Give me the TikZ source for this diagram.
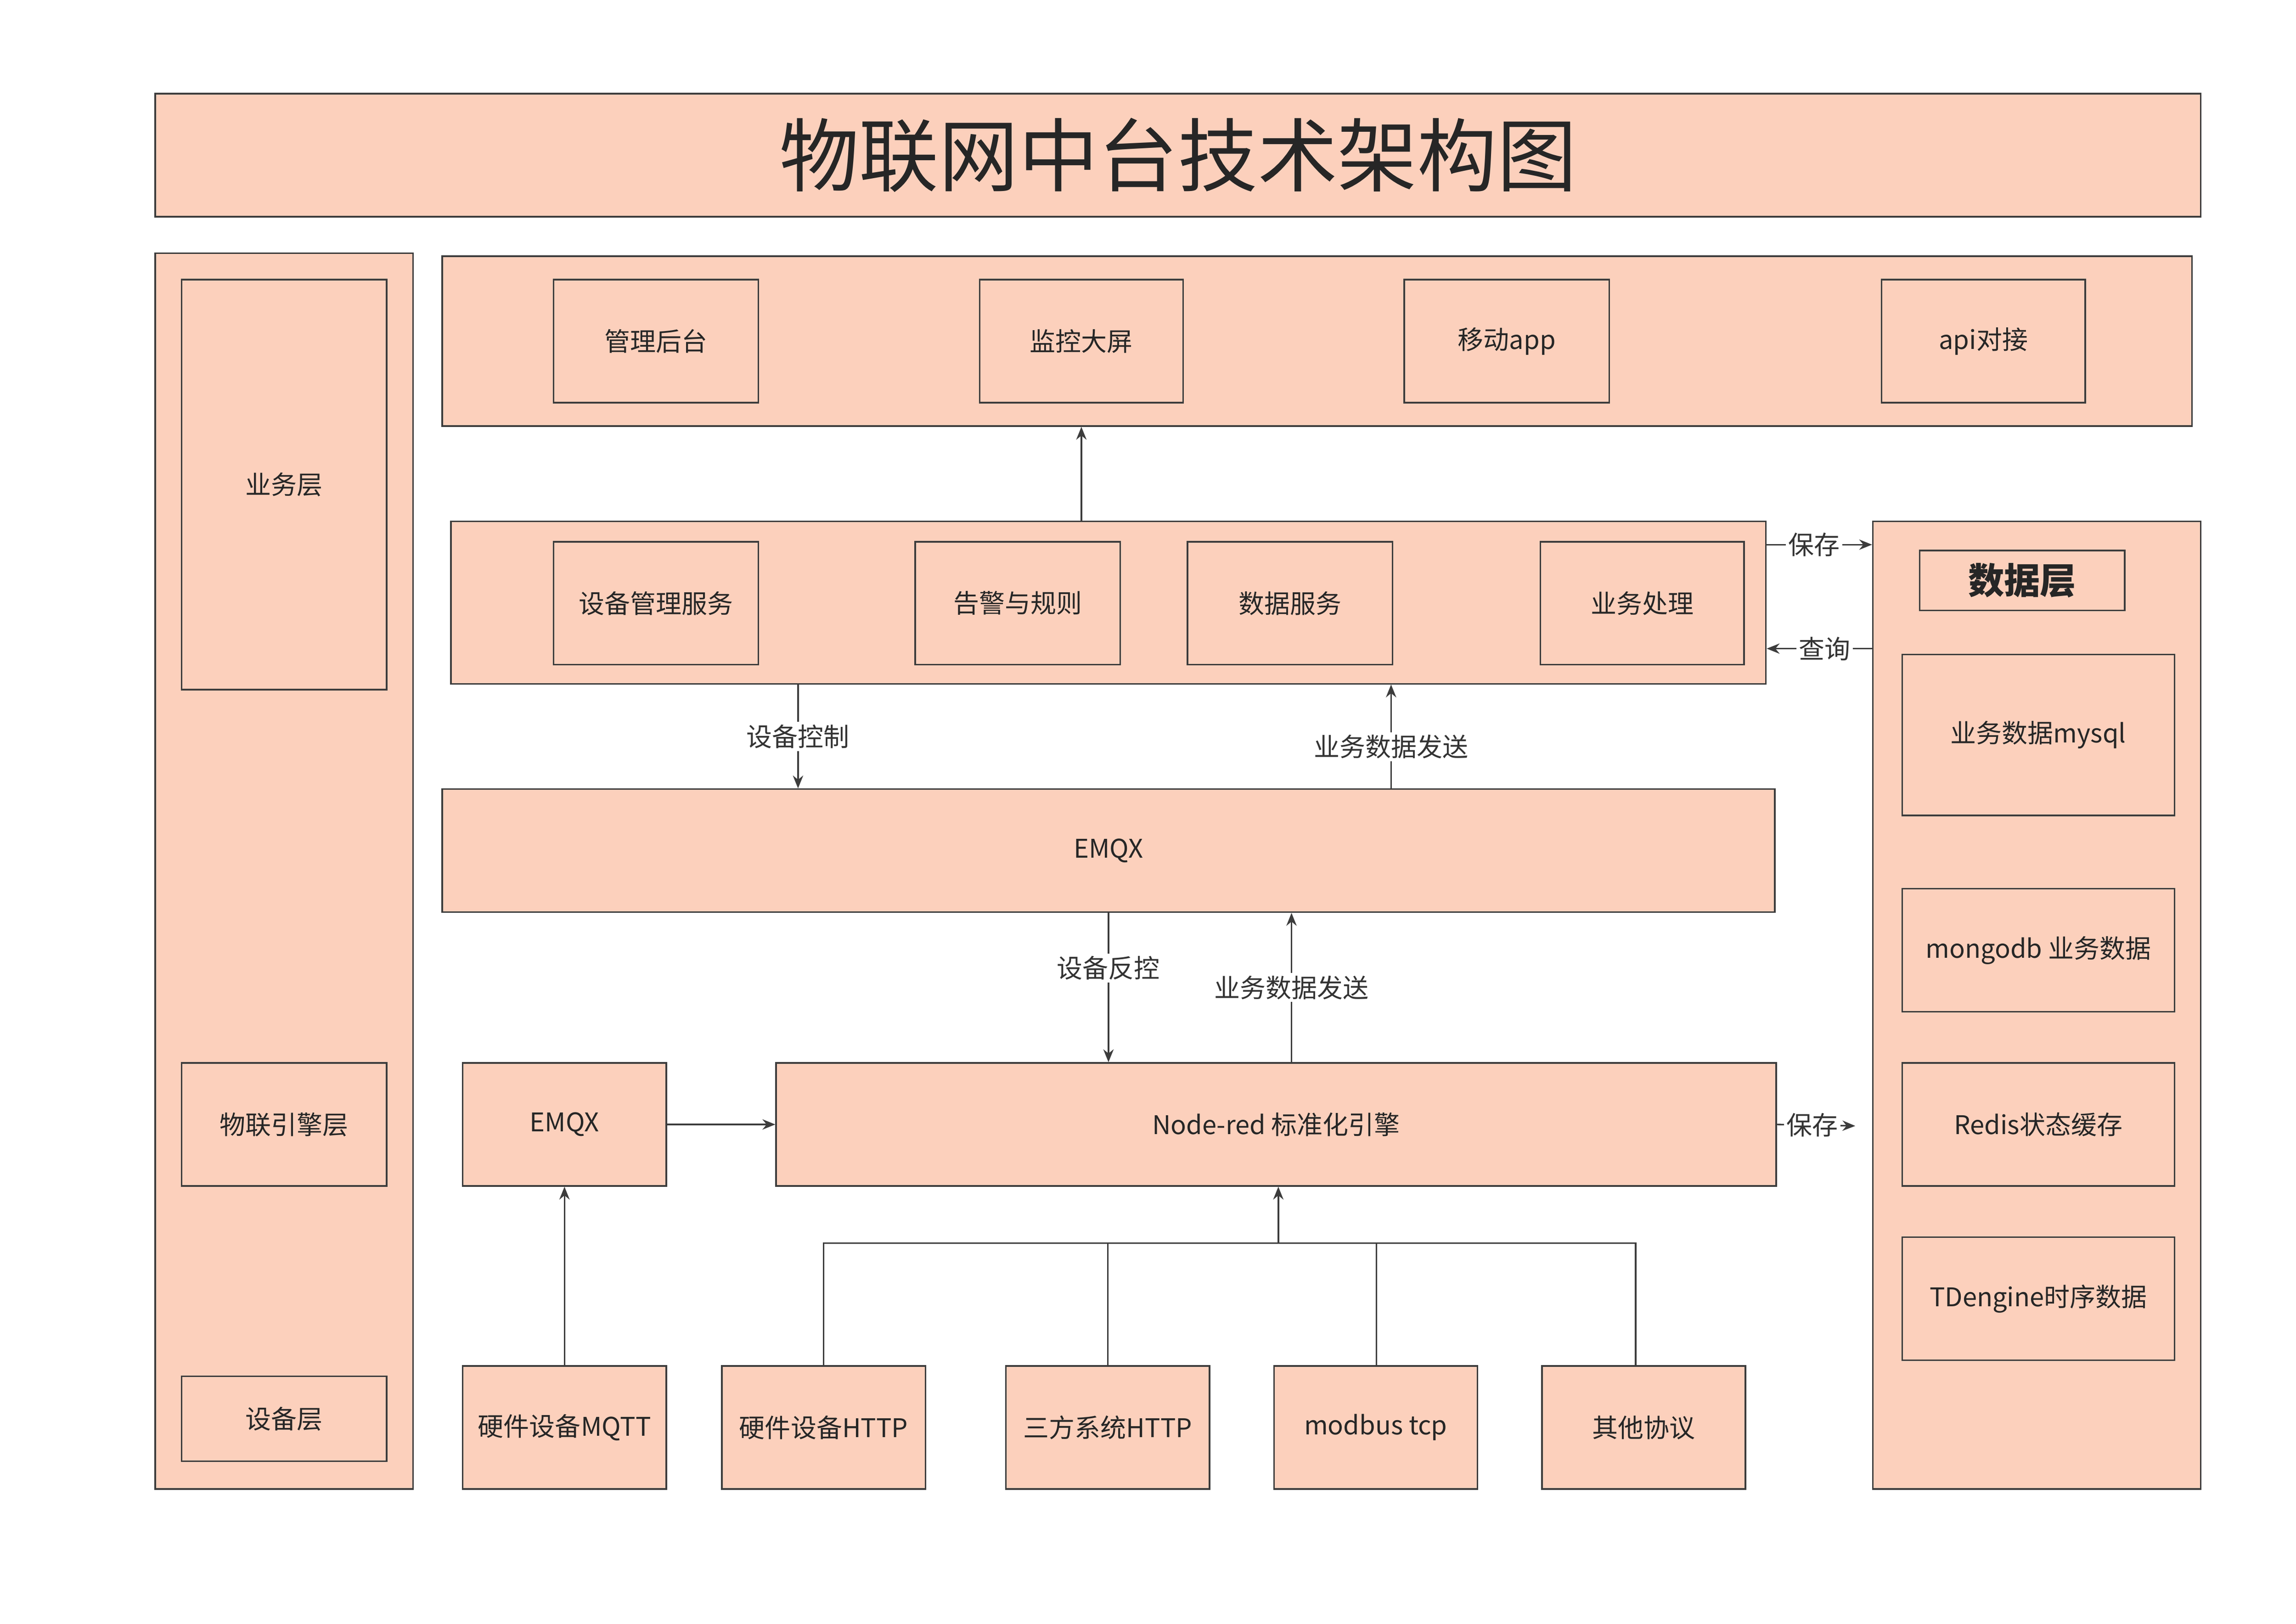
\documentclass[tikz,border=0pt]{standalone}
\usepackage{fontspec}
\setmainfont{Noto Sans CJK SC}
\usetikzlibrary{arrows.meta}
\definecolor{fillc}{RGB}{252,208,188}
\definecolor{linec}{RGB}{60,60,60}
\tikzset{box/.style={draw=linec,fill=fillc,line width=0.6pt,inner sep=0pt,font=\fontsize{10}{12}\selectfont,text=black!85},
 arr/.style={draw=linec,line width=0.6pt,-{Stealth[length=5pt,width=4pt]}},
 ln/.style={draw=linec,line width=0.6pt},
 lbl/.style={fill=white,font=\fontsize{10}{12}\selectfont,text=black!80,inner sep=1pt}}
\newcommand\bx[6]{\node[box,minimum width={(#4-#2)*0.02cm},minimum height={(#5-#3)*0.02cm}] (#1) at ({(#2+#4)/2},{(#3+#5)/2}) {#6};}
\begin{document}
\begin{tikzpicture}[x=0.02cm,y=-0.02cm]
\useasboundingbox[fill=white] (0,0) rectangle (1568,1109);
\node[box,minimum width={1397*0.02cm},minimum height={84*0.02cm},font=\fontsize{31}{36}\selectfont] (title) at (804.5,106) {物联网中台技术架构图};
\bx{left}{106}{173}{282}{1017}{}
\bx{ywc}{124}{191}{264}{471}{业务层}
\bx{wlc}{124}{726}{264}{810}{物联引擎层}
\bx{sbc}{124}{940}{264}{998}{设备层}
\bx{app}{302}{175}{1497}{291}{}
\bx{a1}{378}{191}{518}{275}{管理后台}
\bx{a2}{669}{191}{808}{275}{监控大屏}
\bx{a3}{959}{191}{1099}{275}{移动app}
\bx{a4}{1285}{191}{1424}{275}{api对接}
\bx{svc}{308}{356}{1206}{467}{}
\bx{s1}{378}{370}{518}{454}{设备管理服务}
\bx{s2}{625}{370}{765}{454}{告警与规则}
\bx{s3}{811}{370}{951}{454}{数据服务}
\bx{s4}{1052}{370}{1191}{454}{业务处理}
\bx{emqx}{302}{539}{1212}{623}{EMQX}
\bx{nr}{530}{726}{1213}{810}{Node-red 标准化引擎}
\bx{em2}{316}{726}{455}{810}{EMQX}
\bx{b1}{316}{933}{455}{1017}{硬件设备MQTT}
\bx{b2}{493}{933}{632}{1017}{硬件设备HTTP}
\bx{b3}{687}{933}{826}{1017}{三方系统HTTP}
\bx{b4}{870}{933}{1009}{1017}{modbus tcp}
\bx{b5}{1053}{933}{1192}{1017}{其他协议}
\bx{data}{1279}{356}{1503}{1017}{}
\node[box,minimum width={140*0.02cm},minimum height={41*0.02cm},font=\fontsize{14}{16}\selectfont\bfseries] (dt) at (1381,396.5) {数据层};
\bx{d1}{1299}{447}{1485}{557}{业务数据mysql}
\bx{d2}{1299}{607}{1485}{691}{mongodb 业务数据}
\bx{d3}{1299}{726}{1485}{810}{Redis状态缓存}
\bx{d4}{1299}{845}{1485}{929}{TDengine时序数据}
% arrows
\draw[arr] (svc.north -| a2) -- (app.south -| a2);
\draw[arr] (svc.south -| 545,0) -- node[lbl,pos=0.5]{设备控制} (emqx.north -| 545,0);
\draw[arr] (emqx.north -| 950,0) -- node[lbl,pos=0.4]{业务数据发送} (svc.south -| 950,0);
\draw[arr] (emqx.south -| 757,0) -- node[lbl,pos=0.37]{设备反控} (nr.north -| 757,0);
\draw[arr] (nr.north -| 882,0) -- node[lbl,pos=0.5]{业务数据发送} (emqx.south -| 882,0);
\draw[arr] (em2) -- (nr.west |- em2);
\draw[arr] (b1) -- (em2);
\coordinate (bus) at (873,849);
\draw[ln] (b2.north) |- (1117,849) -- (b5.north -| 1117,0);
\draw[ln] (b3.north) -- (b3.north |- bus);
\draw[ln] (b4.north -| 940,0) -- (940,849);
\draw[arr] (bus) -- (nr.south -| bus);
\draw[arr] (svc.east |- 0,372) -- node[lbl,pos=0.45]{保存} (data.west |- 0,372);
\draw[arr] (data.west |- 0,443) -- node[lbl,pos=0.45]{查询} (svc.east |- 0,443);
\draw[arr] (nr.east) -- node[lbl,pos=0.45]{保存} (1267,769);
\end{tikzpicture}
\end{document}
